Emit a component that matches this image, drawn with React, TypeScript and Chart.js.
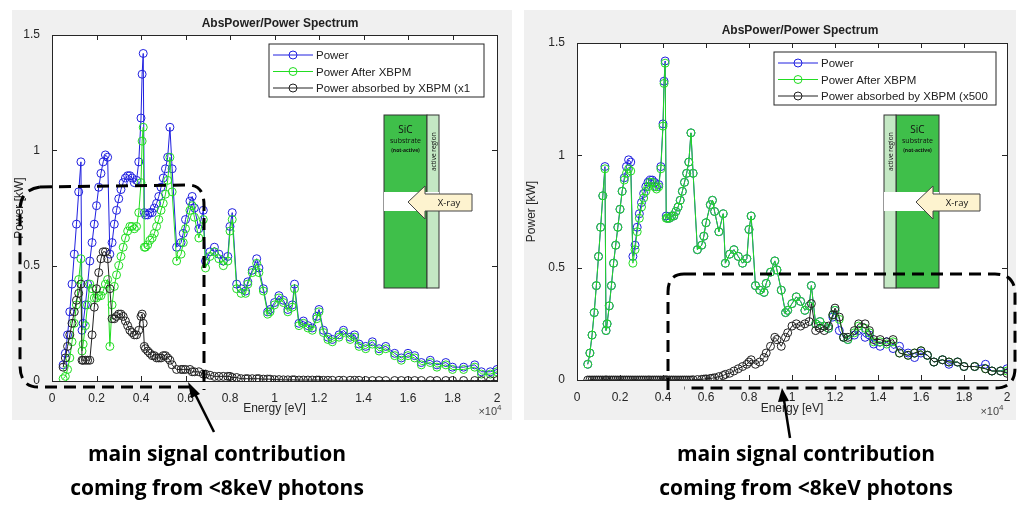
import React, { useEffect, useRef } from "react";
import { Chart, registerables } from "chart.js";
Chart.register(...registerables);

const ENERGY = [
  500, 600, 700, 800, 900, 1000, 1100, 1200, 1300, 1350,
  1400, 1500, 1600, 1700, 1800, 1900, 2000, 2100, 2200, 2300, 2400, 2500,
  2600, 2700, 2800, 2900, 3000, 3100, 3200, 3300, 3400, 3500, 3600, 3700, 3800, 3900,
  4000, 4050, 4100, 4150,
  4200, 4300, 4400, 4500, 4600, 4700, 4800, 4900, 5000, 5100,
  5200, 5300, 5400, 5600, 5800, 5900, 6000, 6200, 6300, 6400,
  6600, 6800, 6900, 7100, 7300, 7500, 7700, 7900, 8000, 8100,
  8300, 8500, 8700, 8800, 9000, 9200, 9300, 9500, 9700, 9800,
  10000, 10200, 10400, 10600, 10800, 10900, 11100, 11300, 11500, 11700,
  11900, 12000, 12200, 12400, 12600, 12900, 13100, 13400, 13600, 13800,
  14100, 14400, 14700, 15000, 15400, 15700, 16000, 16300, 16600, 17000,
  17300, 17700, 18000, 18500, 19000, 19300, 19700, 20000,
];

const POWER = [
  .07, .12, .2, .3, .42, .55, .68, .82, .95, .22,
  .25, .33, .42, .52, .6, .68, .76, .84, .9, .95, .98, .97,
  .55, .6, .68, .74, .79, .83, .86, .88, .89, .89, .88, .86, .87, .95,
  1.14, 1.33, 1.42, .73,
  .72, .72, .73, .73, .75, .77, .8, .84, .88, .92,
  .97, 1.1, .92, .58, .6, .64, .7, .78, .8, .75,
  .66, .74, .52, .56, .58, .55, .52, .54, .67, .73,
  .42, .4, .39, .43, .48, .53, .49, .4, .3, .31,
  .34, .37, .35, .31, .33, .42, .25, .26, .24, .23,
  .28, .31, .22, .19, .18, .2, .22, .19, .2, .16,
  .15, .17, .14, .15, .12, .1, .12, .11, .08, .09,
  .07, .08, .06, .06, .07, .04, .04, .05,
];

const LEFT_AFTER = [
  .01, .02, .05, .1, .17, .25, .33, .44, .53, .13,
  .16, .24, .33, .42, .4, .36, .36, .37, .37, .39, .42, .44,
  .15, .33, .41, .46, .5, .54, .58, .62, .65, .67, .67, .66, .67, .73,
  .86, 1.04, 1.1, .58,
  .58, .59, .61, .62, .64, .67, .7, .74, .77, .81,
  .87, .97, .82, .52, .55, .6, .66, .74, .76, .71,
  .62, .7, .49, .54, .56, .53, .5, .52, .65, .7,
  .4, .38, .38, .42, .47, .51, .47, .39, .29, .3,
  .33, .36, .34, .3, .32, .4, .24, .25, .23, .22,
  .27, .3, .21, .18, .17, .19, .21, .18, .19, .15,
  .14, .16, .13, .14, .11, .09, .11, .1, .07, .08,
  .06, .07, .05, .05, .06, .03, .03, .04,
];

const LEFT_ABSORBED = [
  .06, .1, .15, .2, .25, .3, .35, .38, .42, .09,
  .09, .09, .09, .09, .2, .32, .4, .47, .53, .56, .56, .53,
  .4, .27, .27, .28, .29, .29, .28, .26, .24, .22, .21, .2, .2, .22,
  .28, .29, .25, .15,
  .14, .13, .12, .11, .11, .1, .1, .1, .11, .11,
  .1, .09, .07, .05, .05, .05, .05, .05, .04, .04,
  .04, .03, .03, .025, .02, .02, .02, .02, .02, .015,
  .015, .01, .01, .01, .01, .01, .01, .008, .008, .008,
  .006, .006, .005, .005, .005, .005, .004, .004, .004, .004,
  .004, .004, .003, .003, .003, .003, .003, .003, .003, .003,
  .002, .002, .002, .002, .002, .002, .002, .002, .002, .002,
  .002, .002, .002, .002, .002, .002, .002, .002,
];

const RIGHT_AFTER = [
  .07, .12, .2, .3, .42, .55, .68, .82, .94, .22,
  .25, .33, .42, .52, .6, .68, .76, .84, .89, .92, .94, .93,
  .52, .58, .66, .72, .77, .81, .84, .86, .88, .88, .86, .85, .86, .94,
  1.13, 1.32, 1.41, .72,
  .72, .72, .73, .73, .75, .77, .8, .84, .88, .92,
  .97, 1.1, .92, .58, .6, .64, .7, .78, .8, .75,
  .66, .74, .52, .56, .58, .55, .52, .54, .67, .73,
  .42, .4, .39, .43, .48, .53, .49, .4, .3, .31,
  .34, .37, .35, .31, .33, .42, .25, .26, .24, .23,
  .29, .31, .27, .19, .18, .21, .24, .23, .21, .17,
  .17, .16, .17, .12, .11, .12, .13, .11, .08, .09,
  .08, .08, .06, .06, .05, .04, .04, .04,
];

const RIGHT_ABSORBED = [
  0, 0, 0, 0, 0, 0, 0, 0, 0, 0,
  0, 0, 0, 0, 0, 0, 0, 0, 0, 0, 0, 0,
  0, 0, 0, 0, 0, 0, 0, 0, 0, 0, 0, 0, 0, 0,
  0, 0, 0, 0,
  0, 0, 0, 0, 0, 0, 0, 0, 0, 0,
  0, 0, .001, .002, .003, .004, .005, .007, .008, .01,
  .015, .02, .025, .03, .04, .05, .06, .07, .08, .09,
  .07, .08, .1, .12, .15, .19, .18, .15, .19, .21,
  .24, .25, .24, .25, .26, .34, .22, .23, .22, .24,
  .29, .32, .28, .19, .19, .22, .25, .25, .22, .18,
  .18, .17, .18, .12, .11, .12, .13, .11, .08, .09,
  .08, .08, .06, .06, .05, .04, .04, .03,
];

const X_TICKS = [0, 2000, 4000, 6000, 8000, 10000, 12000, 14000, 16000, 18000, 20000];
const Y_TICKS = [0, 0.5, 1, 1.5];
const FONT = "'Liberation Sans', Arial, sans-serif";
const BLUE = "#2020e0";
const GREEN = "#22dd22";
const BLACK = "#222222";

const boxPlugin = {
  id: "box",
  beforeDraw(chart: any) {
    const { ctx, chartArea: a } = chart;
    ctx.save();
    ctx.fillStyle = "#ffffff";
    ctx.fillRect(a.left, a.top, a.right - a.left, a.bottom - a.top);
    ctx.restore();
  },
  afterDraw(chart: any) {
    const { ctx, chartArea: a, scales } = chart;
    ctx.save();
    ctx.strokeStyle = "#262626";
    ctx.lineWidth = 1;
    ctx.strokeRect(a.left + 0.5, a.top + 0.5, a.right - a.left, a.bottom - a.top);
    ctx.beginPath();
    for (const v of X_TICKS) {
      const x = Math.round(scales.x.getPixelForValue(v)) + 0.5;
      ctx.moveTo(x, a.bottom); ctx.lineTo(x, a.bottom - 5);
      ctx.moveTo(x, a.top); ctx.lineTo(x, a.top + 5);
    }
    for (const v of Y_TICKS) {
      const y = Math.round(scales.y.getPixelForValue(v)) + 0.5;
      ctx.moveTo(a.left, y); ctx.lineTo(a.left + 5, y);
      ctx.moveTo(a.right, y); ctx.lineTo(a.right - 5, y);
    }
    ctx.stroke();
    ctx.restore();
  },
};

function mk(vals: number[]) {
  return ENERGY.map((x, i) => ({ x, y: vals[i] }));
}

function Panel(props: { after: number[]; absorbed: number[]; yw: number; pad: any; xh: number; w: number; h: number }) {
  const ref = useRef<HTMLCanvasElement>(null);
  useEffect(() => {
    const ds = (label: string, v: number[], c: string, order: number) => ({
      label, data: mk(v), borderColor: c, backgroundColor: "rgba(0,0,0,0)",
      borderWidth: 1, pointRadius: 4, pointBorderWidth: 1, pointBorderColor: c, order,
    });
    const chart = new Chart(ref.current!, {
      type: "line",
      data: {
        datasets: [
          ds("Power", POWER, BLUE, 3),
          ds("Power After XBPM", props.after, GREEN, 2),
          ds("Power absorbed by XBPM", props.absorbed, BLACK, 1),
        ],
      },
      options: {
        animation: false, responsive: false,
        layout: { padding: props.pad },
        plugins: { legend: { display: false }, tooltip: { enabled: false } },
        scales: {
          x: {
            type: "linear", min: 0, max: 20000,
            afterBuildTicks: (s: any) => { s.ticks = X_TICKS.map((v) => ({ value: v })); },
            afterFit: (s: any) => { s.height = props.xh; },
            grid: { display: false }, border: { display: false },
            ticks: { color: "#262626", font: { family: FONT, size: 12 }, padding: 2, callback: (v: any) => String(Number(v) / 10000) },
            title: { display: true, text: "Energy [eV]", color: "#262626", font: { family: FONT, size: 12 }, padding: { top: 2, bottom: 0 } },
          },
          y: {
            type: "linear", min: 0, max: 1.5,
            afterBuildTicks: (s: any) => { s.ticks = Y_TICKS.map((v) => ({ value: v })); },
            afterFit: (s: any) => { s.width = props.yw; },
            grid: { display: false }, border: { display: false },
            ticks: { color: "#262626", font: { family: FONT, size: 12 }, padding: 4, callback: (v: any) => String(v) },
            title: { display: true, text: "Power [kW]", color: "#262626", font: { family: FONT, size: 12 }, padding: 0 },
          },
        },
      },
      plugins: [boxPlugin],
    } as any);
    return () => chart.destroy();
  }, []);
  return <canvas ref={ref} width={props.w} height={props.h} style={{ width: props.w, height: props.h, display: "block" }} />;
}

function Legend({ x, y, w, last }: { x: number; y: number; w: number; last: string }) {
  const rows = [["Power", BLUE], ["Power After XBPM", GREEN], [last, BLACK]];
  return (
    <g>
      <rect x={x} y={y} width={w} height={53} fill="#fff" stroke="#262626" strokeWidth={1} />
      {rows.map(([t, c], i) => (
        <g key={i}>
          <line x1={x + 4} x2={x + 44} y1={y + 11 + i * 16.5} y2={y + 11 + i * 16.5} stroke={c} strokeWidth={1} />
          <circle cx={x + 24} cy={y + 11 + i * 16.5} r={4} fill="none" stroke={c} strokeWidth={1} />
          <text x={x + 47} y={y + 15 + i * 16.5} fontFamily={FONT} fontSize={11.5} fill="#222">{t}</text>
        </g>
      ))}
    </g>
  );
}

function Diagram({ gx, sx, ax }: { gx: number; sx: number; ax: number }) {
  return (
    <g>
      <rect x={gx} y={115} width={43} height={173} fill="#3fbf4a" stroke="#333" strokeWidth={1} />
      <rect x={sx} y={115} width={12} height={173} fill="#c4e8c4" stroke="#333" strokeWidth={1} />
      <rect x={Math.min(gx, sx)} y={192} width={55} height={19} fill="#ffffff" />
      <text x={gx + 21.5} y={133} textAnchor="middle" fontFamily="'Open Sans', sans-serif" fontSize={10} fill="#111">SiC</text>
      <text x={gx + 21.5} y={143} textAnchor="middle" fontFamily="'Open Sans', sans-serif" fontSize={7} fill="#111">substrate</text>
      <text x={gx + 21.5} y={152} textAnchor="middle" fontFamily="'Open Sans', sans-serif" fontSize={5} fontWeight="bold" fill="#111">(not-active)</text>
      <text transform={`translate(${sx + 9},171) rotate(-90)`} fontFamily="'Open Sans', sans-serif" fontSize={6.5} fill="#111">active region</text>
      <polygon points={`${ax},202 ${ax + 17},186 ${ax + 17},194 ${ax + 64},194 ${ax + 64},211 ${ax + 17},211 ${ax + 17},219`} fill="#fdf3cf" stroke="#444" strokeWidth={1} />
      <text x={ax + 41} y={206} textAnchor="middle" fontFamily="'Open Sans', sans-serif" fontSize={9.5} fill="#111">X-ray</text>
    </g>
  );
}

export default function App() {
  const bold = "'Open Sans', Lato, sans-serif";
  return (
    <div style={{ position: "fixed", left: 0, top: 0, width: 1024, height: 510, background: "#fff", overflow: "hidden" }}>
      <div style={{ position: "absolute", left: 12, top: 10, background: "#f0f0f0" }}>
        <Panel after={LEFT_AFTER} absorbed={LEFT_ABSORBED} yw={40} xh={35} w={500} h={410} pad={{ left: 0, top: 25, right: 15, bottom: 4 }} />
      </div>
      <div style={{ position: "absolute", left: 524, top: 10, background: "#f0f0f0" }}>
        <Panel after={RIGHT_AFTER} absorbed={RIGHT_ABSORBED} yw={53} xh={36} w={492} h={410} pad={{ left: 0, top: 33, right: 9, bottom: 4 }} />
      </div>
      <svg width={1024} height={510} style={{ position: "absolute", left: 0, top: 0 }}>
        <text x={280} y={27} textAnchor="middle" fontFamily={FONT} fontWeight="bold" fontSize={12} fill="#222">AbsPower/Power Spectrum</text>
        <text x={800} y={34} textAnchor="middle" fontFamily={FONT} fontWeight="bold" fontSize={12} fill="#222">AbsPower/Power Spectrum</text>
        <text x={490} y={415} textAnchor="middle" fontFamily={FONT} fontSize={11} fill="#444">×10<tspan dy={-5} fontSize={8}>4</tspan></text>
        <text x={992} y={415} textAnchor="middle" fontFamily={FONT} fontSize={11} fill="#444">×10<tspan dy={-5} fontSize={8}>4</tspan></text>
        <Legend x={269} y={44} w={215} last="Power absorbed by XBPM (x1" />
        <Legend x={774} y={52} w={222} last="Power absorbed by XBPM (x500" />
        <Diagram gx={384} sx={427} ax={408} />
        <Diagram gx={896} sx={884} ax={916} />
        <path d="M 40 187 L 188 185 Q 204 185 204 205 L 204 390 M 190 387 L 38 387 Q 20 387 20 365 L 20 210 Q 20 190 40 187" fill="none" stroke="#000" strokeWidth={3} strokeDasharray="12 7" />
        <path d="M 684 274 L 995 274 Q 1015 274 1015 294 L 1015 368 Q 1015 388 995 388 L 684 388 M 668 390 L 668 292 Q 668 274 684 274" fill="none" stroke="#000" strokeWidth={3} strokeDasharray="12 7" />
        <line x1={214} y1={432} x2={194} y2={392} stroke="#000" strokeWidth={2.5} />
        <polygon points="188,382 191,398 200,394" fill="#000" />
        <line x1={790} y1={438} x2={784} y2={400} stroke="#000" strokeWidth={2.5} />
        <polygon points="782,388 778,402 789,401" fill="#000" />
        <text x={217} y={461} textAnchor="middle" fontFamily={bold} fontWeight="bold" fontSize={21} fill="#000">main signal contribution</text>
        <text x={217} y={495} textAnchor="middle" fontFamily={bold} fontWeight="bold" fontSize={21} fill="#000">coming from &lt;8keV photons</text>
        <text x={806} y={461} textAnchor="middle" fontFamily={bold} fontWeight="bold" fontSize={21} fill="#000">main signal contribution</text>
        <text x={806} y={495} textAnchor="middle" fontFamily={bold} fontWeight="bold" fontSize={21} fill="#000">coming from &lt;8keV photons</text>
      </svg>
    </div>
  );
}
